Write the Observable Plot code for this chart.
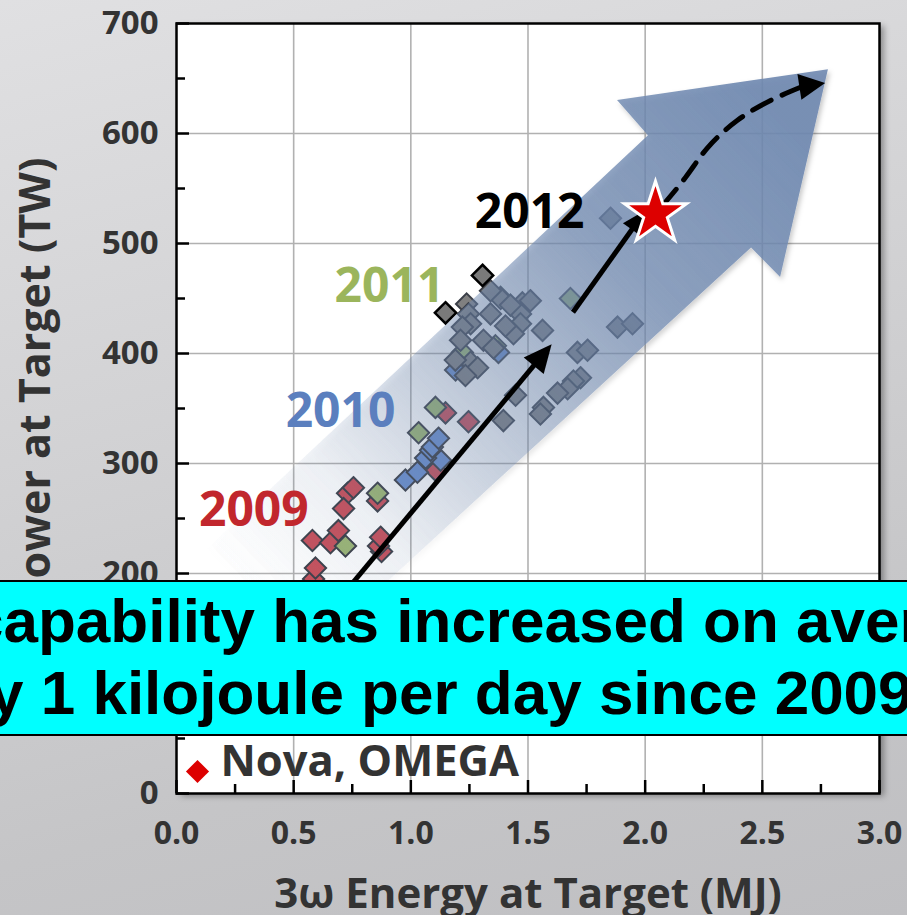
<!DOCTYPE html>
<html>
<head>
<meta charset="utf-8">
<script src="https://cdn.jsdelivr.net/npm/d3@7"></script>
<script src="https://cdn.jsdelivr.net/npm/@observablehq/plot@0.6"></script>
<style>
  html, body { margin: 0; padding: 0; }
  #wrap {
    position: relative; width: 907px; height: 915px; overflow: hidden;
    background: linear-gradient(165deg, #e0e0e2 0%, #d2d2d4 40%, #c5c5c7 75%, #bfbfc2 100%);
  }
  #chart svg { display: block; background: transparent !important; }
  #banner {
    position: absolute; left: -6px; top: 580px; width: 925px; height: 152px;
    background: #00ffff; border: 2px solid #000;
    font-family: "Liberation Sans", Arial, sans-serif; font-weight: bold; font-size: 62px; color: #000;
  }
  #banner .bl { position: absolute; white-space: nowrap; line-height: 72px; }
</style>
</head>
<body>
<div id="wrap">
  <div id="chart"></div>
  <div id="banner">
    <div class="bl" id="line1"></div>
    <div class="bl" id="line2"></div>
  </div>
</div>
<script>
// ---------- axis ticks ----------
const xTicks = [0, 0.5, 1, 1.5, 2, 2.5, 3];
const xMinorTicks = [0.25, 0.75, 1.25, 1.75, 2.25, 2.75];
const yTicks = [0, 100, 200, 300, 400, 500, 600, 700];
const yMinorTicks = [50, 150, 250, 350, 450, 550, 650];
const xGrid = [0.5, 1, 1.5, 2, 2.5];
const yGrid = [100, 200, 300, 400, 500, 600];
const xLabel = "3\u03c9 Energy at Target (MJ)";
const yLabel = "Power at Target (TW)";

// ---------- shot data (3w energy MJ, peak power TW) ----------
const red2009X = [0.730, 0.755, 0.713, 0.580, 0.657, 0.691, 0.875, 0.862, 0.871, 0.585, 0.593, 0.858, 1.148, 1.246, 1.105];
const red2009Y = [273, 278, 259, 230, 228, 239, 220, 225, 233, 195, 205, 266, 346, 338, 294];

const green2011X = [0.721, 0.858, 1.033, 1.105, 1.681, 1.220, 1.383, 1.361];
const green2011Y = [225, 273, 328, 351, 450, 401, 451, 407];

const blue2010X = [1.071, 1.127, 0.977, 1.028, 1.063, 1.084, 1.092, 1.118, 1.191, 1.374];
const blue2010Y = [305, 303, 285, 292, 305, 312, 315, 323, 385, 401];

const grey2012X = [1.238, 1.852, 1.562, 1.882, 1.946, 1.711, 1.754, 1.724, 1.694, 1.669, 1.626, 1.566, 1.553, 1.447, 1.395,
                   1.383, 1.476, 1.246, 1.340, 1.468, 1.255, 1.220, 1.310, 1.468, 1.438, 1.353, 1.255, 1.285, 1.212, 1.425,
                   1.404, 1.233, 1.190, 1.340, 1.510];
const grey2012Y = [445, 523, 421, 424, 427, 401, 403, 378, 375, 368, 364, 351, 345, 362, 339,
                   450, 446, 436, 436, 436, 427, 424, 412, 427, 418, 405, 392, 387, 412, 444,
                   425, 380, 394, 457, 448];

const dark2012X = [1.148, 1.306];
const dark2012Y = [437, 471];

// ---------- year labels ----------
const yearText = ["2009", "2010", "2011", "2012"];
const yearX = [0.33, 0.70, 0.909, 1.507];
const yearY = [257, 347, 461, 528];
const yearColor = ["#c1272d", "#5b7fbe", "#9bb55c", "#000000"];

// ---------- trend arrow (big translucent) ----------
const bigArrowX = [0.0, 2.014, 1.882, 2.782, 2.578, 2.454, 0.0];
const bigArrowY = [196, 598, 630, 658, 469, 496, 16];
const gradFromX = [0.35], gradFromY = [170], gradToX = [2.55], gradToY = [620];

// ---------- solid black arrows ----------
const arrowX1 = [0.398, 1.694];
const arrowY1 = [100, 437];
const arrowX2 = [1.603, 2.005];
const arrowY2 = [408, 530];

// ---------- dashed projection ----------
const dashX = [2.044, 2.172, 2.266, 2.394, 2.535, 2.663];
const dashY = [527, 560, 587, 612, 630, 642];
const dashTipX = [2.77], dashTipY = [645.5];

// ---------- star ----------
const starX = [2.044], starY = [527];

const legendText = ["Nova, OMEGA"];
const bannerLines = ["capability has increased on aver", "y 1 kilojoule per day since 2009"];

const FONT = "'Open Sans', 'Noto Sans', sans-serif";
const NS = "http://www.w3.org/2000/svg";
function el(name, attrs) {
  const e = document.createElementNS(NS, name);
  for (const k in attrs) e.setAttribute(k, attrs[k]);
  return e;
}
function head(g, x1, y1, x2, y2, hl, hw) {
  const L = Math.hypot(x2 - x1, y2 - y1), ux = (x2 - x1) / L, uy = (y2 - y1) / L;
  const bx = x2 - ux * hl, by = y2 - uy * hl;
  g.append(el("path", {d: `M${x2},${y2}L${bx - uy * hw},${by + ux * hw}L${bx + uy * hw},${by - ux * hw}Z`, fill: "black"}));
  return [bx, by];
}

function bigArrowMark(index, scales) {
  const {x, y} = scales;
  const g = el("g", {});
  const defs = el("defs", {});
  const lg = el("linearGradient", {id: "arrowGrad", gradientUnits: "userSpaceOnUse",
    x1: x(gradFromX[0]), y1: y(gradFromY[0]), x2: x(gradToX[0]), y2: y(gradToY[0])});
  [[0, 0.0], [0.2, 0.1], [0.45, 0.4], [0.7, 0.72], [1, 0.9]].forEach(([o, a]) => {
    lg.append(el("stop", {offset: o, "stop-color": "#6e88b0", "stop-opacity": a}));
  });
  defs.append(lg);
  const f = el("filter", {id: "arrowShadow", x: "-10%", y: "-10%", width: "130%", height: "130%"});
  f.append(el("feDropShadow", {dx: 2, dy: 3, stdDeviation: 2.5, "flood-color": "#000", "flood-opacity": 0.25}));
  defs.append(f);
  const fr = el("filter", {id: "frameShadow", x: "-5%", y: "-5%", width: "112%", height: "112%"});
  fr.append(el("feDropShadow", {dx: 5, dy: 3, stdDeviation: 3, "flood-color": "#000", "flood-opacity": 0.35}));
  defs.append(fr);
  g.append(defs);
  const d = "M" + bigArrowX.map((v, i) => `${x(v)},${y(bigArrowY[i])}`).join("L") + "Z";
  g.append(el("path", {d, fill: "url(#arrowGrad)", filter: "url(#arrowShadow)"}));
  return g;
}

function solidArrowsMark(index, scales) {
  const {x, y} = scales;
  const g = el("g", {});
  for (let i = 0; i < arrowX1.length; i++) {
    const x1 = x(arrowX1[i]), y1 = y(arrowY1[i]), x2 = x(arrowX2[i]), y2 = y(arrowY2[i]);
    const [bx, by] = head(g, x1, y1, x2, y2, i === 0 ? 28 : 24, i === 0 ? 13 : 11);
    g.insertBefore(el("line", {x1, y1, x2: (bx + x2) / 2, y2: (by + y2) / 2, stroke: "black", "stroke-width": 5}), g.firstChild);
  }
  const n = dashX.length;
  head(g, x(dashX[n - 1]) - (x(dashTipX[0]) - x(dashX[n - 1])), y(dashY[n - 1]) - (y(dashTipY[0]) - y(dashY[n - 1])),
       x(dashTipX[0]), y(dashTipY[0]), 26, 13);
  return g;
}

function frameBg(index, scales, values, dims) {
  const {width, height, marginLeft, marginRight, marginTop, marginBottom} = dims;
  return el("rect", {x: marginLeft, y: marginTop, width: width - marginLeft - marginRight,
    height: height - marginTop - marginBottom, fill: "white", filter: "url(#frameShadow)"});
}

function dots(X, Y, fill, stroke, sw) {
  return Plot.dot(X.map((v, i) => i), {x: i => X[i], y: i => Y[i], symbol: "diamond2", r: 9.6,
    fill, stroke, strokeWidth: sw});
}

const idx = a => a.map((v, i) => i);

const marks = [
  frameBg,
  Plot.ruleX(xGrid, {x: d => d, stroke: "#b1b1b1", strokeWidth: 1.6}),
  Plot.ruleY(yGrid, {y: d => d, stroke: "#b1b1b1", strokeWidth: 1.6}),
  dots(red2009X, red2009Y, "#c8505b", "#3b3f48", 2),
  dots(green2011X, green2011Y, "#9cb674", "#3b3f48", 2),
  dots(blue2010X, blue2010Y, "#6b8fcf", "#3b3f48", 2),
  dots(grey2012X, grey2012Y, "#808080", "#3b3f48", 2),
  bigArrowMark,
  dots(dark2012X, dark2012Y, "#7a7a7a", "#000000", 2.5),
  Plot.line(idx(dashX), {x: i => dashX[i], y: i => dashY[i], curve: "natural", stroke: "black",
    strokeWidth: 5, strokeDasharray: "21,12", strokeDashoffset: -44}),
  solidArrowsMark,
  Plot.dot(idx(starX), {x: i => starX[i], y: i => starY[i], symbol: "star", r: 19.5, fill: "#dd0000",
    stroke: "white", strokeWidth: 3}),
  ...yearText.map((t, i) => Plot.text([t], {x: () => yearX[i], y: () => yearY[i], text: d => d,
    fill: yearColor[i], fontSize: 48, fontWeight: "bold", fontFamily: FONT})),
  Plot.dot(legendText, {frameAnchor: "bottom-left", dx: 21, dy: -22, symbol: "diamond2", r: 10.4, fill: "#dd0000"}),
  Plot.text(legendText, {frameAnchor: "bottom-left", dx: 44, dy: -31, text: d => d, textAnchor: "start",
    lineAnchor: "middle", fontSize: 43.5, fontWeight: "bold", fill: "#333", fontFamily: FONT}),
  Plot.ruleY(yTicks, {y: d => d, x1: 0, x2: 0, insetRight: -13, stroke: "black", strokeWidth: 2.5}),
  Plot.ruleY(yMinorTicks, {y: d => d, x1: 0, x2: 0, insetRight: -9, stroke: "black", strokeWidth: 2.5}),
  Plot.ruleX(xTicks, {x: d => d, y1: 0, y2: 0, insetTop: -13, stroke: "black", strokeWidth: 2.5}),
  Plot.ruleX(xMinorTicks, {x: d => d, y1: 0, y2: 0, insetTop: -9, stroke: "black", strokeWidth: 2.5}),
  Plot.frame({stroke: "black", strokeWidth: 2.5}),
  Plot.text(yTicks, {x: 0, y: d => d, text: d => String(d), textAnchor: "end", dx: -18,
    fontSize: 33, fontWeight: "bold", fill: "#333", fontFamily: FONT}),
  Plot.text(xTicks, {x: d => d, y: 0, text: d => d.toFixed(1), dy: 40,
    fontSize: 32, fontWeight: "bold", fill: "#333", fontFamily: FONT}),
  Plot.text([xLabel], {frameAnchor: "bottom", dy: 101, text: d => d, textAnchor: "middle", lineAnchor: "middle",
    fontSize: 42, fontWeight: "bold", fill: "#333", fontFamily: FONT}),
  Plot.text([yLabel], {frameAnchor: "left", dx: -140, dy: -27, rotate: -90, text: d => d,
    textAnchor: "middle", lineAnchor: "middle", fontSize: 43, fontWeight: "bold", fill: "#333", fontFamily: FONT})
];

const chart = Plot.plot({
  width: 907, height: 915,
  marginLeft: 176, marginRight: 28, marginTop: 23, marginBottom: 122,
  x: {domain: [0, 3], axis: null},
  y: {domain: [0, 700], axis: null},
  style: {background: "transparent", fontFamily: FONT, overflow: "visible"},
  marks
});
const defs = chart.querySelector("defs");
if (defs) chart.insertBefore(defs, chart.firstChild);
document.getElementById("chart").append(chart);
document.getElementById("line1").textContent = bannerLines[0];
document.getElementById("line2").textContent = bannerLines[1];
document.getElementById("line1").style.cssText = "left:-27px;top:3px";
document.getElementById("line2").style.cssText = "left:-7px;top:75px";
</script>
</body>
</html>
